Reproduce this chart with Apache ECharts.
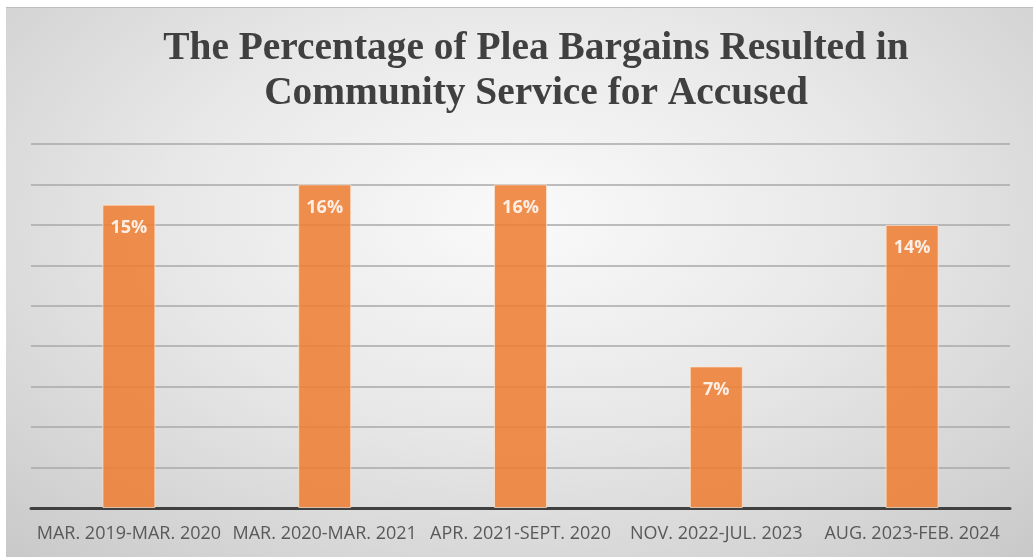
<!DOCTYPE html>
<html>
<head>
<meta charset="utf-8">
<script src="https://cdn.jsdelivr.net/npm/echarts@6/dist/echarts.min.js"></script>
<style>
html,body{margin:0;padding:0;background:#ffffff;width:1033px;height:557px;overflow:hidden;}
#frame{position:absolute;left:6px;top:7px;width:1027px;height:550px;
 background:radial-gradient(ellipse 75% 85% at 50% 38%, #fafafa 0%, #e8e8e8 45%, #d4d4d4 80%, #c8c8c8 100%);
 border-top:1px solid #bdbdbd;box-sizing:border-box;}
#chart{position:absolute;left:0;top:0;width:1027px;height:549px;}
</style>
</head>
<body>
<div id="frame"><div id="chart"></div></div>
<script>
const titleText = 'The Percentage of Plea Bargains Resulted in\nCommunity Service for Accused';
const categories = ['MAR. 2019-MAR. 2020','MAR. 2020-MAR. 2021','APR. 2021-SEPT. 2020','NOV. 2022-JUL. 2023','AUG. 2023-FEB. 2024'];
const values = [15, 16, 16, 7, 14];

const chart = echarts.init(document.getElementById('chart'));
chart.setOption({
  backgroundColor: 'transparent',
  animation: false,
  title: {
    text: titleText,
    left: 525,
    textAlign: 'center',
    top: 13,
    textStyle: {
      fontFamily: 'Liberation Serif',
      fontWeight: 'bold',
      fontSize: 39.4,
      lineHeight: 45,
      color: '#404040'
    }
  },
  grid: { left: 25, width: 979, top: 136, height: 364, containLabel: false },
  xAxis: {
    type: 'category',
    data: categories,
    axisLine: { show: true, lineStyle: { color: '#404040', width: 3 } },
    axisTick: { show: false },
    axisLabel: { color: '#595959', fontFamily: 'Open Sans', fontSize: 18, margin: 17, interval: 0 }
  },
  yAxis: {
    type: 'value',
    min: 0, max: 18, interval: 2,
    axisLabel: { show: false },
    axisLine: { show: false },
    axisTick: { show: false },
    splitLine: { lineStyle: { color: '#a8a8a8', width: 1.5 } }
  },
  series: [{
    type: 'bar',
    data: values,
    barWidth: 53,
    itemStyle: { color: '#ED7D31', opacity: 0.86, borderColor: 'rgba(255,235,215,0.8)', borderWidth: 1 },
    label: {
      show: true,
      position: 'insideTop',
      distance: 14,
      formatter: '{c}%',
      color: '#ffffff',
      fontFamily: 'Open Sans',
      fontWeight: 'bold',
      fontSize: 18
    }
  }]
});
</script>
</body>
</html>
